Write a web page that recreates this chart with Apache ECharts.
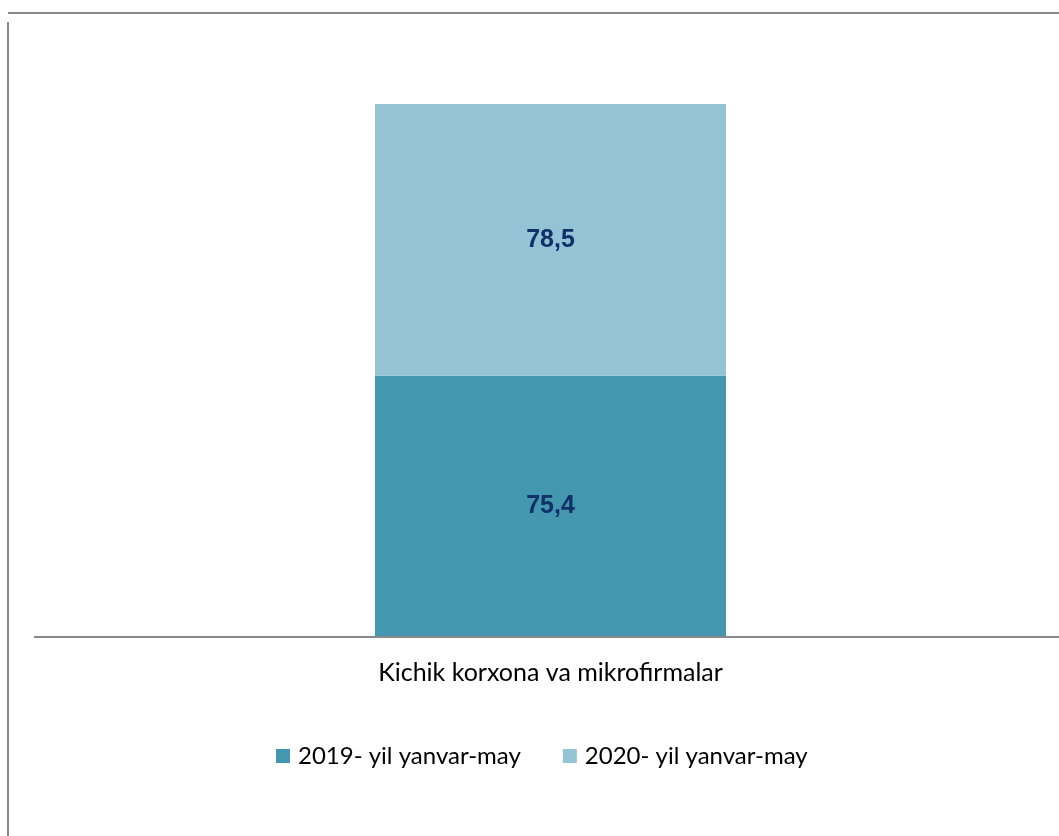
<!DOCTYPE html>
<html>
<head>
<meta charset="utf-8">
<script src="https://cdn.jsdelivr.net/npm/echarts@6/dist/echarts.min.js"></script>
<style>html,body{margin:0;padding:0;background:#fff}#c{width:1059px;height:836px}</style>
</head>
<body>
<div id="c"></div>
<script>
const categories = ['Kichik korxona va mikrofirmalar'];
const seriesNames = ['2019- yil yanvar-may', '2020- yil yanvar-may'];
const values2019 = [75.4];
const values2020 = [78.5];

const chart = echarts.init(document.getElementById('c'));
const labelStyle = {
  show: true, position: 'inside', color: '#10306A', fontFamily: 'Liberation Sans, Arial',
  fontWeight: 'bold', fontSize: 25,
  formatter: p => String(p.value).replace('.', ',')
};
chart.setOption({
  animation: false,
  graphic: [
    {type: 'line', shape: {x1: 8, y1: 13, x2: 1059, y2: 13}, style: {stroke: '#898989', lineWidth: 2}},
    {type: 'line', shape: {x1: 8, y1: 22, x2: 8, y2: 836}, style: {stroke: '#898989', lineWidth: 2}},
    {type: 'line', z: 10, shape: {x1: 34, y1: 637, x2: 1059, y2: 637}, style: {stroke: '#898989', lineWidth: 2}}
  ],
  grid: {left: 42, right: 0, top: 104, bottom: 199},
  legend: {
    top: 739, left: 271, itemWidth: 14, itemHeight: 14, itemGap: 42,
    icon: 'rect',
    textStyle: {fontFamily: 'Lato', fontSize: 24, color: '#000', padding: [0, 0, 0, 3]},
    data: seriesNames
  },
  xAxis: {
    type: 'category', data: categories,
    axisLine: {show: false},
    axisTick: {show: false},
    axisLabel: {fontFamily: 'Lato', fontSize: 25, color: '#000', margin: 23}
  },
  yAxis: {type: 'value', min: 0, max: 'dataMax', show: false, splitLine: {show: false}},
  series: [
    {name: seriesNames[0], type: 'bar', stack: 's', data: values2019, barWidth: 351,
     itemStyle: {color: '#4398B0'}, label: labelStyle},
    {name: seriesNames[1], type: 'bar', stack: 's', data: values2020, barWidth: 351,
     itemStyle: {color: '#93C3D5'}, label: labelStyle}
  ]
});
</script>
</body>
</html>
